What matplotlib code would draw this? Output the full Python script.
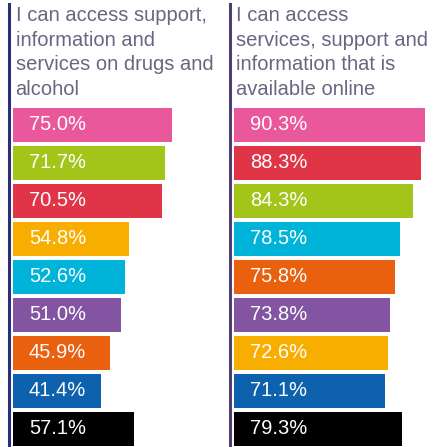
import matplotlib.pyplot as plt
from matplotlib.lines import Line2D

W, H = 433, 447

left_title = "I can access support,\ninformation and\nservices on drugs and\nalcohol"
left_values = [75.0, 71.7, 70.5, 54.8, 52.6, 51.0, 45.9, 41.4, 57.1]
left_colors = ['#e9589b', '#a3c51a', '#e03447', '#f8ae00', '#00b3d8',
               '#8254a1', '#e9600f', '#0d61ad', '#000000']

right_title = "I can access\nservices, support and\ninformation that is\navailable online"
right_values = [90.3, 88.3, 84.3, 78.5, 75.8, 73.8, 72.6, 71.1, 79.3]
right_colors = ['#e9589b', '#e03447', '#a3c51a', '#00b3d8', '#e9600f',
                '#8254a1', '#f8ae00', '#0d61ad', '#000000']

plt.rcParams['font.family'] = ['Liberation Sans', 'DejaVu Sans']

fig = plt.figure(figsize=(W / 100, H / 100), dpi=100)


def panel(x0, line_x, line_color, title, values, colors):
    # vertical rule on the left of each panel
    fig.add_artist(Line2D([line_x / W, line_x / W], [1 - 4 / H, 0],
                          transform=fig.transFigure, color=line_color, lw=2.2))
    fig.text((line_x + 7) / W, 1 - 6 / H, title, ha='left', va='top',
             fontsize=14.5, color='#6b6482', linespacing=1.37)

    top_px, row_px = 106, 38
    n = len(values)
    ax = fig.add_axes([x0 / W, 1 - (top_px + n * row_px) / H,
                       212 / W, n * row_px / H])
    ax.barh(range(n), values, height=0.89, color=colors)
    ax.set_xlim(0, 100)
    ax.set_ylim(n - 0.5, -0.5)
    ax.axis('off')
    for i, v in enumerate(values):
        ax.text(7.5, i, f'{v:.1f}%', color='white', fontsize=14.5,
                va='center', ha='left')


panel(13, 8.5, '#2b2f77', left_title, left_values, left_colors)
panel(234, 229.5, '#4e3d6e', right_title, right_values, right_colors)

fig.savefig('out.png', dpi=100)
